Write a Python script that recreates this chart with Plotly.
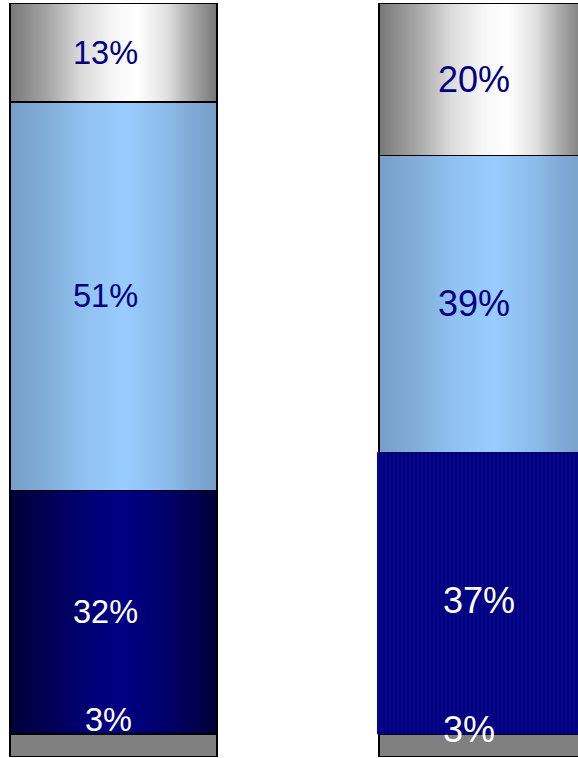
import plotly.graph_objects as go

# ---- data ----
group_labels = ["Group A", "Group B"]
share_bottom = [3, 3]     # grey base segment
share_dark = [32, 37]     # dark blue segment
share_light = [51, 39]    # light blue segment
share_top = [13, 20]      # grey top segment
segment_names = ["Bottom", "Dark", "Light", "Top"]

series = [share_bottom, share_dark, share_light, share_top]
xpos = list(range(len(group_labels)))
bar_w = 0.561

# normalise each group to 100 %
totals = [sum(s[i] for s in series) for i in xpos]
pct = [[s[i] / totals[i] * 100 for i in xpos] for s in series]

grad_gray = [[0, "#787878"], [0.19, "#a8a8a8"], [0.35, "#dcdcdc"], [0.5, "#f6f6f6"],
             [0.62, "#ffffff"], [0.76, "#e0e0e0"], [0.86, "#b0b0b0"], [1, "#767676"]]
grad_light = [[0, "#769ec7"], [0.2, "#83b0dc"], [0.35, "#90c1f0"], [0.55, "#99ccff"],
              [0.75, "#8cbcec"], [0.88, "#80aad6"], [1, "#769ec7"]]
grad_dark = [[0, "#000038"], [0.2, "#000056"], [0.4, "#000078"], [0.55, "#000084"],
             [0.75, "#00006a"], [0.88, "#000052"], [1, "#000038"]]
seg_style = [None, grad_dark, grad_light, grad_gray]
text_colors = ["white", "white", "#000080", "#000080"]

fig = go.Figure()

# gradient fills (drawn beneath transparent outlined bars)
for i in xpos:
    base = 0.0
    for k in range(len(series)):
        top = base + pct[k][i]
        x0, x1 = i - bar_w / 2, i + bar_w / 2
        xs = [x0, x1, x1, x0, x0]
        ys = [base, base, top, top, base]
        striped = (k == 1 and i == 1)
        if striped:
            x0s = x0 - 2 / 369
            xs = [x0s, x1, x1, x0s, x0s]
            fig.add_trace(go.Scatter(
                x=xs, y=ys, mode="lines", fill="toself",
                line=dict(width=0), fillcolor="#00004e",
                fillpattern=dict(shape="|", bgcolor="#00004e", fgcolor="#0000c4",
                                 size=4, solidity=0.45, fillmode="replace"),
                hoverinfo="skip", showlegend=False, zorder=2))
        elif seg_style[k] is None:
            fig.add_trace(go.Scatter(
                x=xs, y=ys, mode="lines", fill="toself",
                line=dict(width=0), fillcolor="#808080",
                hoverinfo="skip", showlegend=False, zorder=0))
        else:
            fig.add_trace(go.Scatter(
                x=xs, y=ys, mode="lines", fill="toself",
                line=dict(width=0),
                fillgradient=dict(type="horizontal", colorscale=seg_style[k]),
                hoverinfo="skip", showlegend=False, zorder=0))
        base = top

# outlined bars (stacked, normalised)
for k, name in enumerate(segment_names):
    fig.add_trace(go.Bar(
        x=xpos, y=series[k], name=name, width=bar_w,
        marker=dict(color="rgba(0,0,0,0)", line=dict(color="black", width=1.6)),
        hoverinfo="skip", showlegend=False, zorder=1))

# value labels (per-label nudges in pixels: (segment, group) -> (xshift, yshift))
nudges = {(0, 0): (-5, 26), (1, 0): (-8, 0), (2, 0): (-8, 0), (3, 0): (-8, 0),
          (0, 1): (-14, 16), (1, 1): (-4, -7), (2, 1): (-9, 0), (3, 1): (-9, 0)}
font_sizes = [32.5, 36]
for i in xpos:
    base = 0.0
    for k in range(len(series)):
        mid = base + pct[k][i] / 2
        xs_, ys_ = nudges[(k, i)]
        fig.add_annotation(
            x=i, y=mid, xref="x", yref="y", showarrow=False,
            text=f"{series[k][i]}%", xshift=xs_, yshift=ys_,
            font=dict(family="Liberation Sans, Arial, sans-serif",
                      size=font_sizes[i], color=text_colors[k]))
        base += pct[k][i]

fig.update_layout(
    barmode="stack", barnorm="percent",
    width=578, height=758,
    margin=dict(l=8, r=0, t=3, b=1),
    plot_bgcolor="white", paper_bgcolor="white",
    xaxis=dict(range=[-0.2859, 1.2588], showgrid=False, zeroline=False,
               showticklabels=False, ticks="", showline=True,
               linecolor="#808080", linewidth=2),
    yaxis=dict(range=[0, 100], showgrid=False, zeroline=False,
               showticklabels=False, ticks="", showline=True,
               linecolor="#c8c8c8", linewidth=1),
)

fig.write_html("out.html")
